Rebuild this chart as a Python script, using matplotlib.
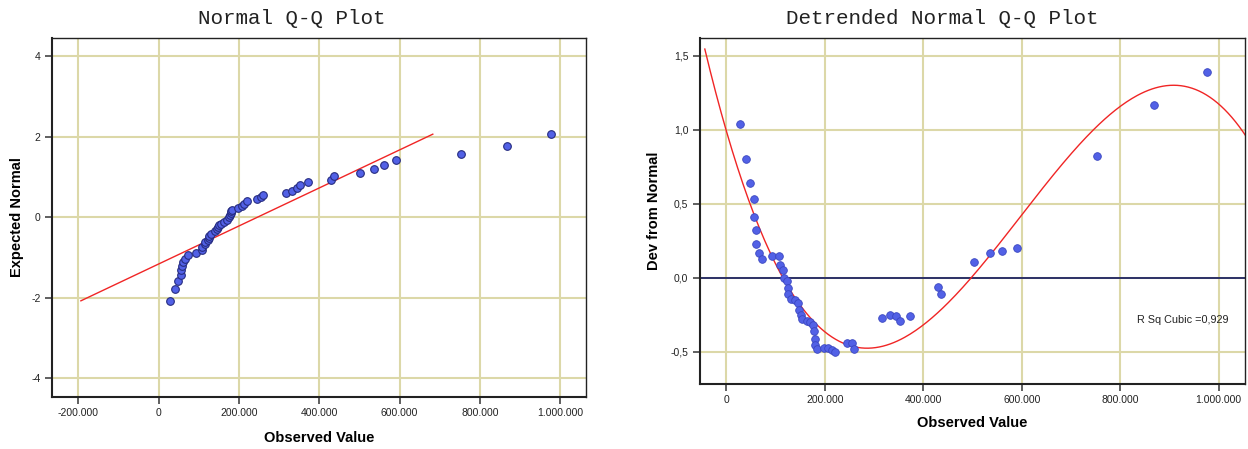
import numpy as np
import matplotlib
matplotlib.use('Agg')
import matplotlib.pyplot as plt

plt.rcParams['font.family'] = ['Liberation Sans', 'DejaVu Sans']
plt.rcParams['axes.unicode_minus'] = False

observed = [28300, 40400, 47100, 55900, 56600, 59300, 60600, 66000, 72700, 92900,
            107700, 109100, 114500, 116500, 123200, 125000, 125600, 130600, 139400, 146100,
            146800, 151500, 154200, 163000, 170400, 175800, 178500, 179100, 179800, 183200,
            197300, 206700, 213500, 220900, 245800, 255200, 259300, 316600, 333000, 345300,
            352800, 372000, 429400, 436200, 501900, 536100, 560700, 590100, 753000, 868000,
            977000]

expected_normal = [-2.07, -1.77, -1.57, -1.43, -1.30, -1.20, -1.10, -1.02, -0.94, -0.87,
                   -0.80, -0.74, -0.67, -0.61, -0.56, -0.50, -0.45, -0.40, -0.34, -0.29,
                   -0.24, -0.19, -0.15, -0.10, -0.05, 0.00, 0.05, 0.10, 0.15, 0.19,
                   0.24, 0.29, 0.34, 0.40, 0.45, 0.50, 0.56, 0.61, 0.67, 0.74,
                   0.80, 0.87, 0.94, 1.02, 1.10, 1.20, 1.30, 1.43, 1.57, 1.77,
                   2.07]

dev_from_normal = [1.04, 0.80, 0.64, 0.53, 0.41, 0.32, 0.23, 0.17, 0.13, 0.15,
                   0.15, 0.09, 0.05, 0.00, -0.02, -0.07, -0.11, -0.14, -0.15, -0.17,
                   -0.22, -0.25, -0.28, -0.29, -0.30, -0.32, -0.36, -0.41, -0.45, -0.48,
                   -0.47, -0.47, -0.49, -0.50, -0.44, -0.44, -0.48, -0.27, -0.25, -0.26,
                   -0.29, -0.26, -0.06, -0.11, 0.11, 0.17, 0.18, 0.20, 0.82, 1.17,
                   1.39]

left_xticks = [-200000, 0, 200000, 400000, 600000, 800000, 1000000]
left_xticklabels = ['-200.000', '0', '200.000', '400.000', '600.000', '800.000', '1.000.000']
left_yticks = [-4, -2, 0, 2, 4]
left_yticklabels = ['-4', '-2', '0', '2', '4']

right_xticks = [0, 200000, 400000, 600000, 800000, 1000000]
right_xticklabels = ['0', '200.000', '400.000', '600.000', '800.000', '1.000.000']
right_yticks = [-0.5, 0.0, 0.5, 1.0, 1.5]
right_yticklabels = ['-0,5', '0,0', '0,5', '1,0', '1,5']

r_sq_text = 'R Sq Cubic =0,929'

x = np.array(observed, dtype=float)
z = np.array(expected_normal)
d = np.array(dev_from_normal)

grid_col = '#dcd8a8'
face_col = '#5261e6'
red = '#f02525'

fig = plt.figure(figsize=(12.48, 4.49), dpi=100)


def style_axes(ax):
    ax.set_axisbelow(True)
    ax.grid(True, color=grid_col, lw=1.5)
    for side in ['left', 'bottom']:
        ax.spines[side].set_linewidth(1.5)
        ax.spines[side].set_color('#222222')
    for side in ['top', 'right']:
        ax.spines[side].set_linewidth(1.0)
        ax.spines[side].set_color('#222222')
    ax.tick_params(direction='out', length=5, width=1.2, color='#444444',
                   labelsize=7.5, pad=3, labelcolor='#222222')


# Normal Q-Q plot
ax1 = fig.add_axes([0.0413, 0.1158, 0.4283, 0.7996])
style_axes(ax1)
ax1.plot(x, z, 'o', ms=5.5, mfc=face_col, mec='#262c80', mew=0.8, zorder=3)
mean, sd = x.mean(), x.std(ddof=1)
zr = np.array([z.min(), z.max()])
ax1.plot(mean + sd * zr, zr, color=red, lw=1.0, zorder=2)
ax1.set_xlim(-266700, 1064300)
ax1.set_ylim(-4.46, 4.46)
ax1.set_xticks(left_xticks)
ax1.set_xticklabels(left_xticklabels)
ax1.set_yticks(left_yticks)
ax1.set_yticklabels(left_yticklabels)
ax1.set_xlabel('Observed Value', fontsize=10.5, fontweight='bold', labelpad=9)
ax1.set_ylabel('Expected Normal', fontsize=10.5, fontweight='bold', labelpad=5)

# Detrended Normal Q-Q plot
ax2 = fig.add_axes([0.5605, 0.1448, 0.4373, 0.7699])
style_axes(ax2)
ax2.axhline(0, color='#1e2462', lw=1.3, zorder=2)
ax2.plot(x, d, 'o', ms=5.5, mfc=face_col, mec='#3a46c0', mew=0.6, zorder=3)
coef = np.polyfit(x, d, 3)
xs = np.linspace(-44000, 1060000, 300)
ax2.plot(xs, np.polyval(coef, xs), color=red, lw=1.0, zorder=2)
ax2.set_xlim(-54800, 1054000)
ax2.set_ylim(-0.716, 1.617)
ax2.set_xticks(right_xticks)
ax2.set_xticklabels(right_xticklabels)
ax2.set_yticks(right_yticks)
ax2.set_yticklabels(right_yticklabels)
ax2.set_xlabel('Observed Value', fontsize=10.5, fontweight='bold', labelpad=8)
ax2.set_ylabel('Dev from Normal', fontsize=10.5, fontweight='bold', labelpad=7)
ax2.text(835000, -0.283, r_sq_text, fontsize=7.8, color='#222222', va='center', ha='left')

fig.text(292 / 1248, 1 - 18 / 449, 'Normal Q-Q Plot', family='Liberation Mono',
         fontsize=15, ha='center', va='center', color='#222222')
fig.text(942 / 1248, 1 - 18 / 449, 'Detrended Normal Q-Q Plot', family='Liberation Mono',
         fontsize=15, ha='center', va='center', color='#222222')

fig.savefig('out.png', dpi=100, facecolor='white')
